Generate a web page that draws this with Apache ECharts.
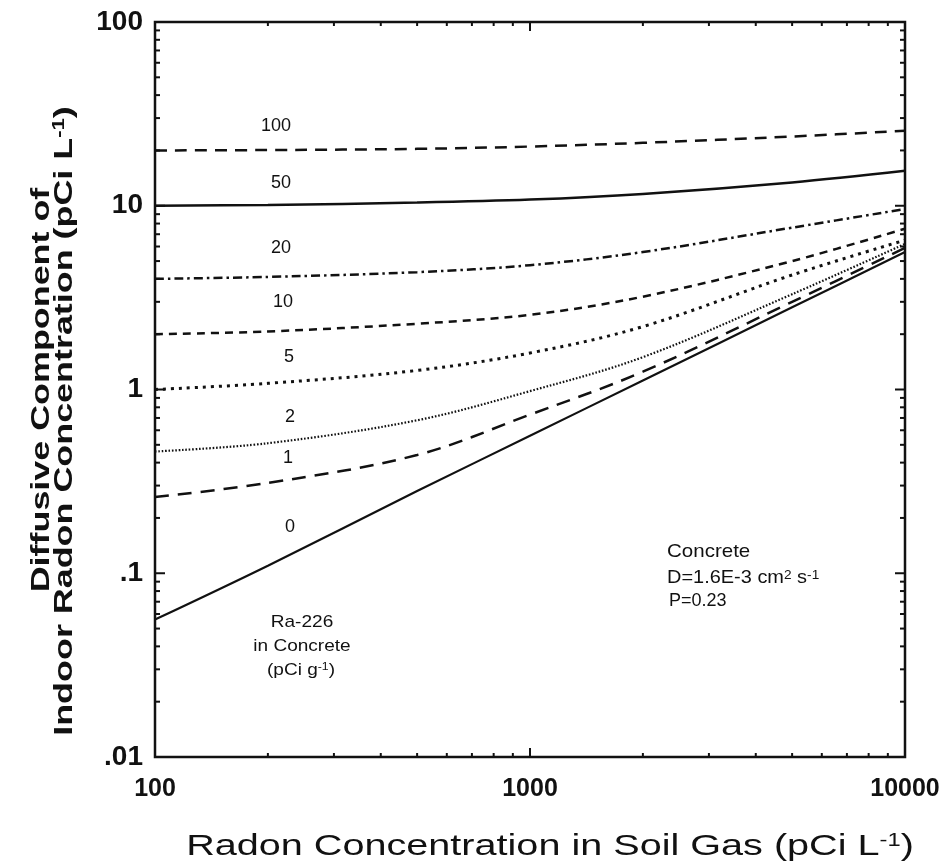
<!DOCTYPE html>
<html><head><meta charset="utf-8">
<script src="https://cdn.jsdelivr.net/npm/echarts@6/dist/echarts.min.js"></script>
<style>html,body{margin:0;padding:0;background:#fff}#c{width:950px;height:866px}</style>
</head><body><div id="c"></div>
<script>
// ---- data ----
const xValues = [100, 200, 500, 1000, 2000, 5000, 10000];
const ra100 = [20, 20.1, 20.4, 21, 22, 23.8, 25.6];
const ra50  = [10, 10.1, 10.4, 10.8, 11.6, 13.4, 15.5];
const ra20  = [4.0, 4.1, 4.35, 4.75, 5.6, 7.6, 9.6];
const ra10  = [2.0, 2.07, 2.28, 2.55, 3.2, 5.0, 7.5];
const ra5   = [1.0, 1.08, 1.27, 1.58, 2.2, 4.2, 6.5];
const ra2   = [0.46, 0.51, 0.68, 0.98, 1.5, 3.3, 6.2];
const ra1   = [0.26, 0.31, 0.44, 0.73, 1.25, 3.0, 5.9];
const ra0   = [0.056, 0.11, 0.28, 0.56, 1.12, 2.8, 5.6];
const curveLabels = ['100', '50', '20', '10', '5', '2', '1', '0'];
const yTickLabels = ['.01', '.1', '1', '10', '100'];   // exponents -2..2
const xTickLabels = ['100', '1000', '10000'];          // exponents 2..4
const yDecades = [0.01, 0.1, 1, 10, 100];
const xDecades = [100, 1000, 10000];
const minorMultipliers = [2, 3, 4, 5, 6, 7, 8, 9];

const INK = '#111';
const FONT = '"Liberation Sans", Arial, sans-serif';

function pairs(arr) { return xValues.map((x, i) => [x, arr[i]]); }

const curveData = [ra100, ra50, ra20, ra10, ra5, ra2, ra1, ra0];
const curveStyles = [
  { width: 2.5, type: [12, 8] },
  { width: 2.5, type: 'solid' },
  { width: 2.5, type: [9, 4, 2.5, 4] },
  { width: 2.5, type: [8, 6] },
  { width: 3, type: [3, 5] },
  { width: 2.2, type: [1.6, 1.8] },
  { width: 2.5, type: [14, 9] },
  { width: 2.2, type: 'solid' }
];

const lineSeries = curveData.map((arr, i) => ({
  name: curveLabels[i],
  type: 'line',
  data: pairs(arr),
  showSymbol: false,
  smooth: 0.35,
  silent: true,
  z: 5,
  lineStyle: Object.assign({ color: INK }, curveStyles[i])
}));

// tick marks (major decades + minor 2..9)
const yTickItems = [];
yDecades.forEach(d => {
  yTickItems.push([100, d, 1]);
  if (d < 100) minorMultipliers.forEach(m => yTickItems.push([100, d * m, 0]));
});
const xTickItems = [];
xDecades.forEach(d => {
  xTickItems.push([d, 1, 1]);
  if (d < 10000) minorMultipliers.forEach(m => xTickItems.push([d * m, 1, 0]));
});

function yTickRender(params, api) {
  const v = api.value(1), major = api.value(2);
  const len = major ? 10 : 5;
  const a = api.coord([100, v]), b = api.coord([10000, v]);
  const st = { stroke: INK, lineWidth: 2 };
  return { type: 'group', children: [
    { type: 'line', shape: { x1: a[0], y1: a[1], x2: a[0] + len, y2: a[1] }, style: st },
    { type: 'line', shape: { x1: b[0], y1: b[1], x2: b[0] - len, y2: b[1] }, style: st }
  ]};
}
function xTickRender(params, api) {
  const v = api.value(0), major = api.value(2);
  const len = major ? 9 : 4;
  const a = api.coord([v, 0.01]), b = api.coord([v, 100]);
  const st = { stroke: INK, lineWidth: 2 };
  return { type: 'group', children: [
    { type: 'line', shape: { x1: a[0], y1: a[1], x2: a[0], y2: a[1] - len }, style: st },
    { type: 'line', shape: { x1: b[0], y1: b[1], x2: b[0], y2: b[1] + len }, style: st }
  ]};
}

function txt(x, y, text, size, extra) {
  return Object.assign({
    type: 'text', x: x, y: y, silent: true, z: 20,
    style: { text: text, fill: INK, fontSize: size, fontFamily: FONT, align: 'center', verticalAlign: 'middle' }
  }, extra || {});
}

const curveLabelPos = [[276, 126], [281, 183], [281, 248], [283, 302], [289, 357], [290, 417], [288, 458], [290, 527]];

const graphics = [];
curveLabels.forEach((lab, i) => graphics.push(txt(curveLabelPos[i][0], curveLabelPos[i][1], lab, 18)));

// Ra-226 note
graphics.push(txt(302, 622, 'Ra-226', 17, { scaleX: 1.12 }));
graphics.push(txt(302, 646, 'in Concrete', 17, { scaleX: 1.12 }));
graphics.push({
  type: 'text', x: 301, y: 670, silent: true, z: 20, scaleX: 1.12,
  style: {
    text: '{a|(pCi g}{s|-1}{a|)}', align: 'center', verticalAlign: 'middle',
    rich: {
      a: { fontSize: 17, fontFamily: FONT, fill: INK },
      s: { fontSize: 11, fontFamily: FONT, fill: INK, verticalAlign: 'top' }
    }
  }
});
// Concrete note
const noteLeft = 667;
graphics.push(txt(noteLeft, 552, 'Concrete', 19, { style: { text: 'Concrete', fill: INK, fontSize: 19, fontFamily: FONT, align: 'left', verticalAlign: 'middle' }, scaleX: 1.08 }));
graphics.push({
  type: 'text', x: noteLeft, y: 578, silent: true, z: 20, scaleX: 1.05,
  style: {
    text: '{a|D=1.6E-3 cm}{s|2}{a| s}{s|-1}', align: 'left', verticalAlign: 'middle',
    rich: {
      a: { fontSize: 19, fontFamily: FONT, fill: INK },
      s: { fontSize: 13, fontFamily: FONT, fill: INK, verticalAlign: 'top' }
    }
  }
});
graphics.push(txt(noteLeft + 2, 601, 'P=0.23', 18, { style: { text: 'P=0.23', fill: INK, fontSize: 18, fontFamily: FONT, align: 'left', verticalAlign: 'middle' } }));

// axis titles
graphics.push({
  type: 'text', x: 42, y: 390, rotation: Math.PI / 2, scaleX: 1.38, silent: true, z: 20,
  style: { text: 'Diffusive Component of', fill: INK, fontSize: 26, fontWeight: 'bold', fontFamily: FONT, align: 'center', verticalAlign: 'middle' }
});
graphics.push({
  type: 'text', x: 65, y: 421, rotation: Math.PI / 2, scaleX: 1.38, silent: true, z: 20,
  style: {
    text: '{a|Indoor Radon Concentration (pCi L}{s|-1}{a|)}', align: 'center', verticalAlign: 'middle',
    rich: {
      a: { fontSize: 26, fontWeight: 'bold', fontFamily: FONT, fill: INK },
      s: { fontSize: 16, fontWeight: 'bold', fontFamily: FONT, fill: INK, verticalAlign: 'top' }
    }
  }
});
graphics.push({
  type: 'text', x: 550, y: 847, scaleX: 1.32, silent: true, z: 20,
  style: {
    text: '{a|Radon Concentration in Soil Gas (pCi L}{s|-1}{a|)}', align: 'center', verticalAlign: 'middle',
    rich: {
      a: { fontSize: 30, fontFamily: FONT, fill: INK },
      s: { fontSize: 18, fontFamily: FONT, fill: INK, verticalAlign: 'top' }
    }
  }
});

const chart = echarts.init(document.getElementById('c'), null, { renderer: 'canvas' });
chart.setOption({
  animation: false,
  backgroundColor: '#fff',
  grid: { left: 155, right: 45, top: 22, bottom: 109, show: true, borderColor: INK, borderWidth: 2.5, backgroundColor: 'transparent' },
  xAxis: {
    type: 'log', logBase: 10, min: 100, max: 10000,
    axisLine: { show: false }, axisTick: { show: false }, splitLine: { show: false },
    axisLabel: {
      margin: 20, fontSize: 25, fontWeight: 'bold', color: INK, fontFamily: FONT,
      showMinLabel: true, showMaxLabel: true,
      formatter: v => xTickLabels[Math.round(Math.log10(v)) - 2]
    }
  },
  yAxis: {
    type: 'log', logBase: 10, min: 0.01, max: 100,
    axisLine: { show: false }, axisTick: { show: false }, splitLine: { show: false },
    axisLabel: {
      margin: 12, fontSize: 28, fontWeight: 'bold', color: INK, fontFamily: FONT,
      showMinLabel: true, showMaxLabel: true,
      formatter: v => yTickLabels[Math.round(Math.log10(v)) + 2]
    }
  },
  series: lineSeries.concat([
    { type: 'custom', data: yTickItems, renderItem: yTickRender, silent: true, z: 6, clip: false },
    { type: 'custom', data: xTickItems, renderItem: xTickRender, silent: true, z: 6, clip: false }
  ]),
  graphic: graphics
});
</script></body></html>
